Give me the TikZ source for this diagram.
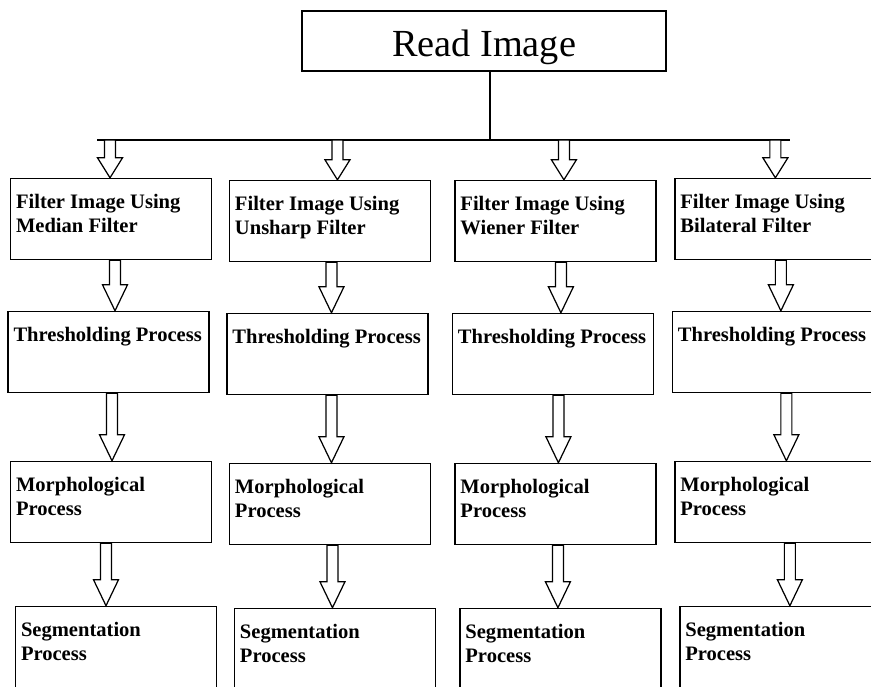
\documentclass[tikz,border=0pt]{standalone}
\usepackage{fontspec}
\setmainfont{Liberation Serif}
\usetikzlibrary{calc, positioning}

\tikzstyle{title} = [draw, line width=0.8pt, minimum width=7.28cm, minimum height=1.2cm, font=\fontsize{21.8}{24}\selectfont]
\tikzstyle{stage} = [draw, line width=0.8pt, inner xsep=0.1cm, inner ysep=0pt, minimum width=4.02cm, minimum height=1.62cm, font=\bfseries\fontsize{11.7}{13.7}\selectfont]
\tikzstyle{hollow} = [draw=black, fill=white, line width=0.7pt, to path={let \p1=(\tikztostart), \p2=(\tikztotarget) in
        (\x1-0.11cm,\y1) -- (\x1-0.11cm,\y2+#1) -- (\x1-0.25cm,\y2+#1) -- (\x1,\y2)
        -- (\x1+0.25cm,\y2+#1) -- (\x1+0.11cm,\y2+#1) -- (\x1+0.11cm,\y1) -- cycle}]
\tikzset{hollow/.default=0.52cm}
\newcommand{\stagetext}[1]{\parbox[c][1.62cm][t]{3.8cm}{\vspace*{0.31cm}#1}}

\begin{document}
\begin{tikzpicture}[x=0.02cm, y=-0.02cm]
        \useasboundingbox (0,0) rectangle (871,686);

        \node (rd) [title] at (484,41) {\raisebox{-0.12cm}[\height][\depth]{Read Image}};

        \node (f1) [stage] at (111,219) {\stagetext{Filter Image Using\\Median Filter}};
        \node (f2) [stage, right of=f1, node distance=4.38cm, yshift=-0.04cm] {\stagetext{Filter Image Using\\Unsharp Filter}};
        \node (f3) [stage, right of=f2, node distance=4.51cm] {\stagetext{Filter Image Using\\Wiener Filter}};
        \node (f4) [stage, right of=f3, node distance=4.40cm, yshift=0.04cm] {\stagetext{Filter Image Using\\Bilateral Filter}};

        \node (t1) [stage, below of=f1, node distance=2.66cm, xshift=-0.05cm] {\stagetext{Thresholding Process}};
        \node (t2) [stage, below of=f2, node distance=2.66cm, xshift=-0.05cm] {\stagetext{Thresholding Process}};
        \node (t3) [stage, below of=f3, node distance=2.66cm, xshift=-0.05cm] {\stagetext{Thresholding Process}};
        \node (t4) [stage, below of=f4, node distance=2.66cm, xshift=-0.05cm] {\stagetext{Thresholding Process}};

        \node (m1) [stage, below of=f1, node distance=5.66cm] {\stagetext{Morphological\\Process}};
        \node (m2) [stage, below of=f2, node distance=5.66cm] {\stagetext{Morphological\\Process}};
        \node (m3) [stage, below of=f3, node distance=5.66cm] {\stagetext{Morphological\\Process}};
        \node (m4) [stage, below of=f4, node distance=5.66cm] {\stagetext{Morphological\\Process}};

        \node (s1) [stage, below of=m1, node distance=2.9cm, xshift=0.1cm] {\stagetext{Segmentation\\Process}};
        \node (s2) [stage, below of=m2, node distance=2.9cm, xshift=0.1cm] {\stagetext{Segmentation\\Process}};
        \node (s3) [stage, below of=m3, node distance=2.9cm, xshift=0.1cm] {\stagetext{Segmentation\\Process}};
        \node (s4) [stage, below of=m4, node distance=2.9cm, xshift=0.1cm] {\stagetext{Segmentation\\Process}};

        % bus under Read Image
        \coordinate (bl) at (97,140);
        \coordinate (br) at (790,140);
        \coordinate (bt) at ([xshift=0.12cm]rd.south);
        \draw[line width=0.7pt] (bt) -- (bt |- bl);
        \draw[line width=0.7pt] (bl) -- (br);

        \coordinate (b1) at ([xshift=-0.02cm]f1.north |- bl);
        \coordinate (b2) at ([xshift=0.15cm]f2.north |- bl);
        \coordinate (b3) at ([xshift=0.17cm]f3.north |- bl);
        \coordinate (b4) at ([xshift=0cm]f4.north |- bl);
        \foreach \i in {1,...,4}
            \path (b\i) edge [hollow=0.4cm] (f\i.north);

        \path ([xshift=0.08cm]f1.south) edge [hollow] (t1.north);
        \path ([xshift=0.03cm]f2.south) edge [hollow] (t2.north);
        \path ([xshift=0.11cm]f3.south) edge [hollow] (t3.north);
        \path ([xshift=0.11cm]f4.south) edge [hollow] (t4.north);

        \path ([xshift=0.07cm]t1.south) edge [hollow] (m1.north);
        \path ([xshift=0.08cm]t2.south) edge [hollow] (m2.north);
        \path ([xshift=0.11cm]t3.south) edge [hollow] (m3.north);
        \path ([xshift=0.27cm]t4.south) edge [hollow] (m4.north);

        \path ([xshift=-0.1cm]m1.south) edge [hollow] (s1.north);
        \path ([xshift=0.05cm]m2.south) edge [hollow] (s2.north);
        \path ([xshift=0.05cm]m3.south) edge [hollow] (s3.north);
        \path ([xshift=0.29cm]m4.south) edge [hollow] (s4.north);

    \end{tikzpicture}
\end{document}
